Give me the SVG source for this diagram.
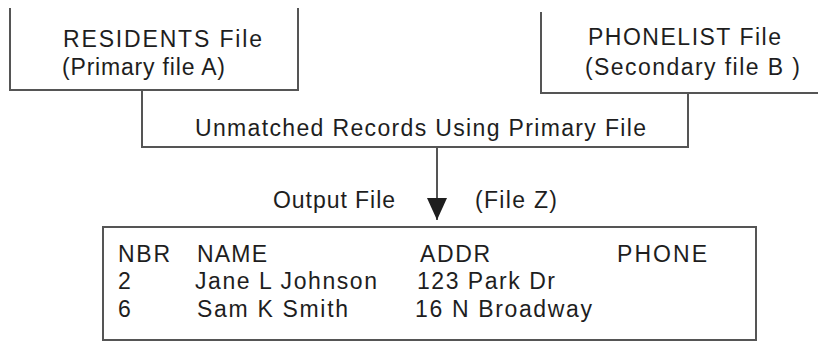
<svg xmlns="http://www.w3.org/2000/svg" width="818" height="343" viewBox="0 0 818 343">
<style>
.box{fill:none;stroke:#555;stroke-width:2}
text{font-family:"Liberation Sans",Arial,sans-serif;font-size:23px;fill:#1e1e1e}
</style>
<defs>
<marker id="arr" markerWidth="22" markerHeight="20" refX="22" refY="10" orient="auto" markerUnits="userSpaceOnUse" viewBox="0 0 22 20">
<path d="M0,0 L22,10 L0,20 Z" fill="#1e1e1e"/>
</marker>
</defs>
<rect width="818" height="343" fill="#fff"/>
<g id="residents">
<path class="box" d="M10,8 V90 H298 V8"/>
<text x="63" y="47" textLength="199" lengthAdjust="spacing">RESIDENTS File</text>
<text x="62" y="75" textLength="163" lengthAdjust="spacing">(Primary file A)</text>
</g>
<g id="phonelist">
<path class="box" d="M541,12 V93 H818"/>
<text x="588" y="45" textLength="193" lengthAdjust="spacing">PHONELIST File</text>
<text x="585" y="75" textLength="215" lengthAdjust="spacing">(Secondary file B )</text>
</g>
<g id="unmatched">
<path class="box" d="M142,90 V147 H688 V93"/>
<text x="195" y="136" textLength="451" lengthAdjust="spacing">Unmatched Records Using Primary File</text>
</g>
<g id="connectors">
<line class="box" x1="437" y1="147" x2="437" y2="220" marker-end="url(#arr)"/>
</g>
<text x="273" y="208" textLength="122" lengthAdjust="spacing">Output File</text>
<text x="475" y="208" textLength="82" lengthAdjust="spacing">(File Z)</text>
<g id="output">
<rect class="box" x="103" y="227" width="653" height="113"/>
<text x="118" y="262" textLength="52" lengthAdjust="spacing">NBR</text>
<text x="197" y="262" textLength="70" lengthAdjust="spacing">NAME</text>
<text x="420" y="262" textLength="70" lengthAdjust="spacing">ADDR</text>
<text x="617" y="262" textLength="90" lengthAdjust="spacing">PHONE</text>
<text x="118" y="289">2</text>
<text x="195" y="289" textLength="182" lengthAdjust="spacing">Jane L Johnson</text>
<text x="417" y="289" textLength="138" lengthAdjust="spacing">123 Park Dr</text>
<text x="118" y="317">6</text>
<text x="197" y="317" textLength="151" lengthAdjust="spacing">Sam K Smith</text>
<text x="415" y="317" textLength="177" lengthAdjust="spacing">16 N Broadway</text>
</g>
</svg>
